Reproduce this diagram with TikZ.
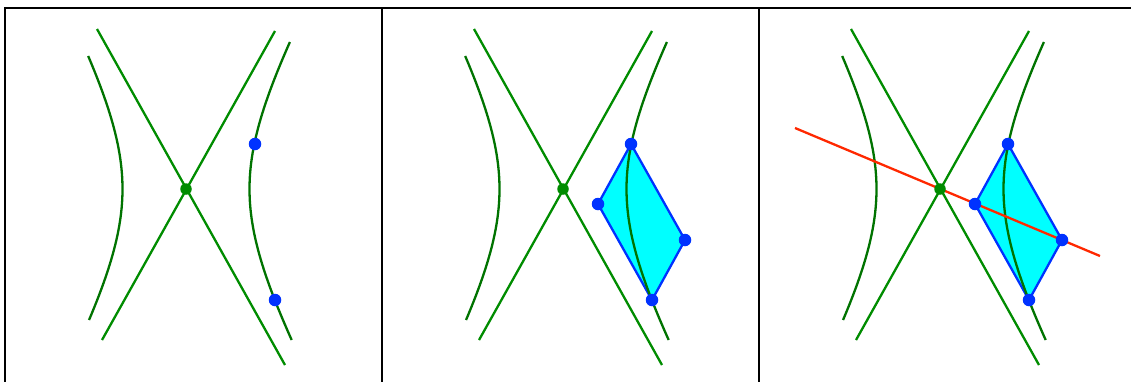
\documentclass[tikz,border=0pt]{standalone}
\definecolor{hypgreen}{RGB}{0,115,0}
\definecolor{asygreen}{RGB}{0,140,0}
\definecolor{dotblue}{RGB}{0,50,255}
\definecolor{redline}{RGB}{255,40,0}
\definecolor{fillcyan}{RGB}{0,255,255}
\begin{document}
\begin{tikzpicture}[x=1pt,y=-1pt,
  frame/.style={draw=black,line width=2.4pt},
  hyp/.style={draw=hypgreen,line width=2.3pt},
  asy/.style={draw=asygreen,line width=2.3pt},
  para/.style={draw=dotblue,fill=fillcyan,line width=2.3pt,line join=round},
  bdot/.style={circle,fill=dotblue,inner sep=0pt,minimum size=12.5pt},
  gdot/.style={circle,fill=asygreen,inner sep=0pt,minimum size=11.5pt},
  redl/.style={draw=redline,line width=2.3pt}]
\useasboundingbox (0,0) rectangle (1131,381);
\clip (0,0) rectangle (1131,381);
\foreach \k/\ox in {0/0,1/377,2/754}{
  \draw[frame] (5+\ox,8) rectangle (382+\ox,400);
}
% ---------- panel 1
\begin{scope}[shift={(186,189)},yscale=-1]
  \coordinate (a1s) at (-89,160); \coordinate (a1e) at (99,-176);
  \coordinate (b1s) at (89,158); \coordinate (b1e) at (-84,-151);
  \draw[asy] (a1s) -- (a1e);
  \draw[asy] (b1s) -- (b1e);
  \draw[hyp] plot[domain=-131:133,samples=60,variable=\t] ({-63.5*sqrt(1+(\t/113.5)^2)},{\t});
  \draw[hyp] plot[domain=-151:147,samples=60,variable=\t] ({63.5*sqrt(1+(\t/113.5)^2)},{\t});
  \node[gdot] (c1) at (0,0) {};
  \node[bdot] (p11) at (69,45) {};
  \node[bdot] (p13) at (89,-111) {};
\end{scope}
% ---------- panel 2
\begin{scope}[shift={(563,189)},yscale=-1]
  \coordinate (a2s) at (-89,160); \coordinate (a2e) at (99,-176);
  \coordinate (b2s) at (89,158); \coordinate (b2e) at (-84,-151);
  \coordinate (q1) at (68,45); \coordinate (q2) at (35,-15);
  \coordinate (q3) at (89,-111); \coordinate (q4) at (122,-51);
  \draw[para] (q1) -- (q2) -- (q3) -- (q4) -- cycle;
  \draw[asy] (a2s) -- (a2e);
  \draw[asy] (b2s) -- (b2e);
  \draw[hyp] plot[domain=-131:133,samples=60,variable=\t] ({-63.5*sqrt(1+(\t/113.5)^2)},{\t});
  \draw[hyp] plot[domain=-151:147,samples=60,variable=\t] ({63.5*sqrt(1+(\t/113.5)^2)},{\t});
  \node[gdot] (c2) at (0,0) {};
  \node[bdot] (p21) at (q1) {};
  \node[bdot] (p22) at (q2) {};
  \node[bdot] (p23) at (q3) {};
  \node[bdot] (p24) at (q4) {};
\end{scope}
% ---------- panel 3
\begin{scope}[shift={(940,189)},yscale=-1]
  \coordinate (a3s) at (-89,160); \coordinate (a3e) at (99,-176);
  \coordinate (b3s) at (89,158); \coordinate (b3e) at (-84,-151);
  \coordinate (r1) at (68,45); \coordinate (r2) at (35,-15);
  \coordinate (r3) at (89,-111); \coordinate (r4) at (122,-51);
  \coordinate (ls) at (-145,61); \coordinate (le) at (160,-67);
  \draw[para] (r1) -- (r2) -- (r3) -- (r4) -- cycle;
  \draw[asy] (a3s) -- (a3e);
  \draw[asy] (b3s) -- (b3e);
  \draw[hyp] plot[domain=-131:133,samples=60,variable=\t] ({-63.5*sqrt(1+(\t/113.5)^2)},{\t});
  \draw[hyp] plot[domain=-151:147,samples=60,variable=\t] ({63.5*sqrt(1+(\t/113.5)^2)},{\t});
  \draw[redl] (ls) -- (le);
  \node[gdot] (c3) at (0,0) {};
  \node[bdot] (p31) at (r1) {};
  \node[bdot] (p32) at (r2) {};
  \node[bdot] (p33) at (r3) {};
  \node[bdot] (p34) at (r4) {};
\end{scope}
\end{tikzpicture}
\end{document}
